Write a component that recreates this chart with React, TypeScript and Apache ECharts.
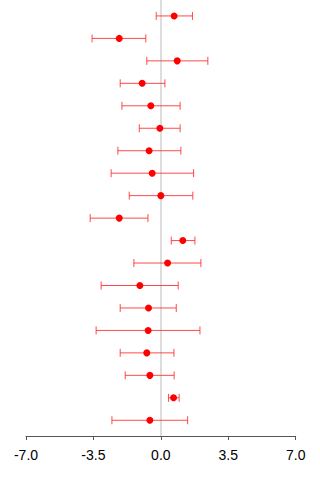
import React, { useEffect, useRef } from "react";
import * as echarts from "echarts";

// Estimates and 95% intervals, listed from the top row to the bottom row
const estimates = [0.69, -2.16, 0.85, -0.97, -0.52, -0.05, -0.61, -0.45, 0.0, -2.16, 1.14, 0.35, -1.09, -0.64, -0.66, -0.73, -0.57, 0.66, -0.57];
const lowers = [-0.24, -3.57, -0.73, -2.11, -2.02, -1.12, -2.23, -2.58, -1.64, -3.67, 0.54, -1.4, -3.1, -2.11, -3.36, -2.11, -1.85, 0.4, -2.54];
const uppers = [1.64, -0.78, 2.44, 0.21, 1.0, 1.0, 1.04, 1.7, 1.66, -0.67, 1.77, 2.08, 0.9, 0.8, 2.03, 0.68, 0.69, 0.95, 1.39];
const xTicks = [-7, -3.5, 0, 3.5, 7];

export default function App() {
  const ref = useRef<HTMLDivElement>(null);

  useEffect(() => {
    if (!ref.current) return;
    const chart = echarts.init(ref.current, undefined, { renderer: "svg" });
    const n = estimates.length;
    const rowY = (i: number) => n - i;

    const barData = estimates.map((_, i) => [lowers[i], uppers[i], rowY(i)]);
    const pointData = estimates.map((v, i) => [v, rowY(i)]);

    chart.setOption({
      animation: false,
      grid: { left: 26, right: 24.3, top: 0, bottom: 44 },
      xAxis: {
        type: "value",
        min: xTicks[0],
        max: xTicks[xTicks.length - 1],
        interval: 3.5,
        splitLine: { show: false },
        axisLine: { show: true, lineStyle: { color: "#555", width: 1 } },
        axisTick: { show: true, length: 4, lineStyle: { color: "#555" } },
        axisLabel: {
          color: "#000",
          fontSize: 14,
          fontFamily: "Liberation Sans, Arial, sans-serif",
          margin: 12,
          formatter: (v: number) => v.toFixed(1),
        },
      },
      yAxis: {
        type: "value",
        min: 0.3,
        max: 19.71,
        show: false,
      },
      series: [
        {
          type: "custom",
          data: barData,
          encode: { x: [0, 1], y: 2 },
          z: 3,
          renderItem: (params: any, api: any) => {
            const lo = api.coord([api.value(0), api.value(2)]);
            const hi = api.coord([api.value(1), api.value(2)]);
            const cap = 4;
            const style = { stroke: "#ff2a2a", lineWidth: 1, opacity: 0.85 };
            return {
              type: "group",
              children: [
                { type: "line", shape: { x1: lo[0], y1: lo[1], x2: hi[0], y2: hi[1] }, style },
                { type: "line", shape: { x1: lo[0], y1: lo[1] - cap, x2: lo[0], y2: lo[1] + cap }, style },
                { type: "line", shape: { x1: hi[0], y1: hi[1] - cap, x2: hi[0], y2: hi[1] + cap }, style },
              ],
            };
          },
        },
        {
          type: "scatter",
          data: pointData,
          symbol: "circle",
          symbolSize: 7,
          z: 4,
          itemStyle: { color: "#ff0000", opacity: 1 },
          markLine: {
            silent: true,
            symbol: "none",
            label: { show: false },
            lineStyle: { color: "#dddddd", width: 2, type: "solid" },
            data: [{ xAxis: 0 }],
            z: 1,
          },
        },
      ],
    });

    return () => chart.dispose();
  }, []);

  return (
    <div
      ref={ref}
      style={{ position: "absolute", left: 0, top: 0, width: 320, height: 480, background: "#fff" }}
    />
  );
}
